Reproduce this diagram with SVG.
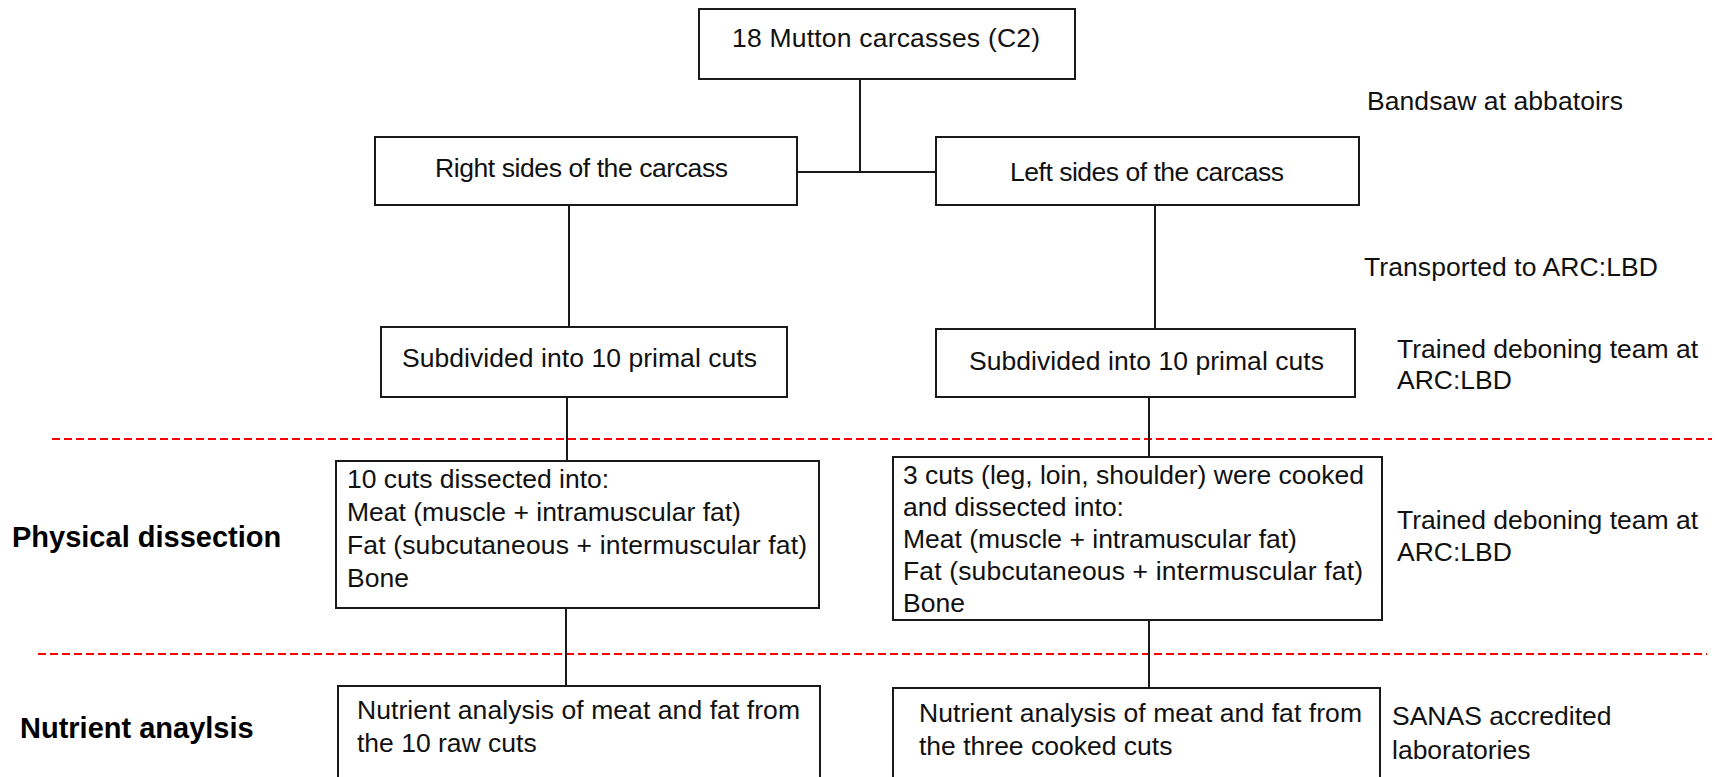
<svg xmlns="http://www.w3.org/2000/svg" width="1715" height="777" viewBox="0 0 1715 777">
<style>
.box{fill:#fff;stroke:#1a1a1a;stroke-width:2}
.t{font-family:"Liberation Sans",Arial,sans-serif;font-size:26.5px;fill:#111}
.c{text-anchor:middle}
.b{font-family:"Liberation Sans",Arial,sans-serif;font-size:29px;font-weight:bold;fill:#000}
.ln{stroke:#1a1a1a;stroke-width:2;fill:none}
.dash{stroke:#ff0000;stroke-width:2;stroke-dasharray:8 4;fill:none}
</style>
<rect width="1715" height="777" fill="#fff"/>
<g id="separators">
<line class="dash" x1="52" y1="439" x2="1712" y2="439"/>
<line class="dash" x1="38" y1="654" x2="1707" y2="654"/>
</g>
<g id="connectors">
<line class="ln" x1="860" y1="79" x2="860" y2="172"/>
<line class="ln" x1="797" y1="172" x2="936" y2="172"/>
<line class="ln" x1="569" y1="205" x2="569" y2="327"/>
<line class="ln" x1="567" y1="397" x2="567" y2="461"/>
<line class="ln" x1="566" y1="608" x2="566" y2="686"/>
<line class="ln" x1="1155" y1="205" x2="1155" y2="329"/>
<line class="ln" x1="1149" y1="397" x2="1149" y2="457"/>
<line class="ln" x1="1149" y1="620" x2="1149" y2="688"/>
</g>
<g id="n-top">
<rect class="box" x="699" y="9" width="376" height="70"/>
<text class="t c" x="886" y="47" textLength="308">18 Mutton carcasses (C2)</text>
</g>
<g id="n-right-sides">
<rect class="box" x="375" y="137" width="422" height="68"/>
<text class="t c" x="581.5" y="177" textLength="293">Right sides of the carcass</text>
</g>
<g id="n-left-sides">
<rect class="box" x="936" y="137" width="423" height="68"/>
<text class="t c" x="1147" y="181" textLength="274">Left sides of the carcass</text>
</g>
<g id="n-right-sub">
<rect class="box" x="381" y="327" width="406" height="70"/>
<text class="t c" x="579.5" y="367" textLength="355">Subdivided into 10 primal cuts</text>
</g>
<g id="n-left-sub">
<rect class="box" x="936" y="329" width="419" height="68"/>
<text class="t c" x="1146.5" y="370" textLength="355">Subdivided into 10 primal cuts</text>
</g>
<g id="n-right-diss">
<rect class="box" x="336" y="461" width="483" height="147"/>
<text class="t" x="347" y="488">10 cuts dissected into:</text>
<text class="t" x="347" y="521">Meat (muscle + intramuscular fat)</text>
<text class="t" x="347" y="554" textLength="460">Fat (subcutaneous + intermuscular fat)</text>
<text class="t" x="347" y="587">Bone</text>
</g>
<g id="n-left-diss">
<rect class="box" x="893" y="457" width="489" height="163"/>
<text class="t" x="903" y="484">3 cuts (leg, loin, shoulder) were cooked</text>
<text class="t" x="903" y="516">and dissected into:</text>
<text class="t" x="903" y="548">Meat (muscle + intramuscular fat)</text>
<text class="t" x="903" y="580" textLength="460">Fat (subcutaneous + intermuscular fat)</text>
<text class="t" x="903" y="612">Bone</text>
</g>
<g id="n-right-nut">
<rect class="box" x="338" y="686" width="482" height="120"/>
<text class="t" x="357" y="719" textLength="443">Nutrient analysis of meat and fat from</text>
<text class="t" x="357" y="752">the 10 raw cuts</text>
</g>
<g id="n-left-nut">
<rect class="box" x="893" y="688" width="487" height="120"/>
<text class="t" x="919" y="722" textLength="443">Nutrient analysis of meat and fat from</text>
<text class="t" x="919" y="755">the three cooked cuts</text>
</g>
<g id="labels">
<text class="t" x="1367" y="110" textLength="256">Bandsaw at abbatoirs</text>
<text class="t" x="1364" y="276" textLength="294">Transported to ARC:LBD</text>
<text class="t" x="1397" y="358">Trained deboning team at</text>
<text class="t" x="1397" y="389">ARC:LBD</text>
<text class="t" x="1397" y="529">Trained deboning team at</text>
<text class="t" x="1397" y="561">ARC:LBD</text>
<text class="t" x="1392" y="725">SANAS accredited</text>
<text class="t" x="1392" y="759">laboratories</text>
<text class="b" x="12" y="547">Physical dissection</text>
<text class="b" x="20" y="738">Nutrient anaylsis</text>
</g>
</svg>
